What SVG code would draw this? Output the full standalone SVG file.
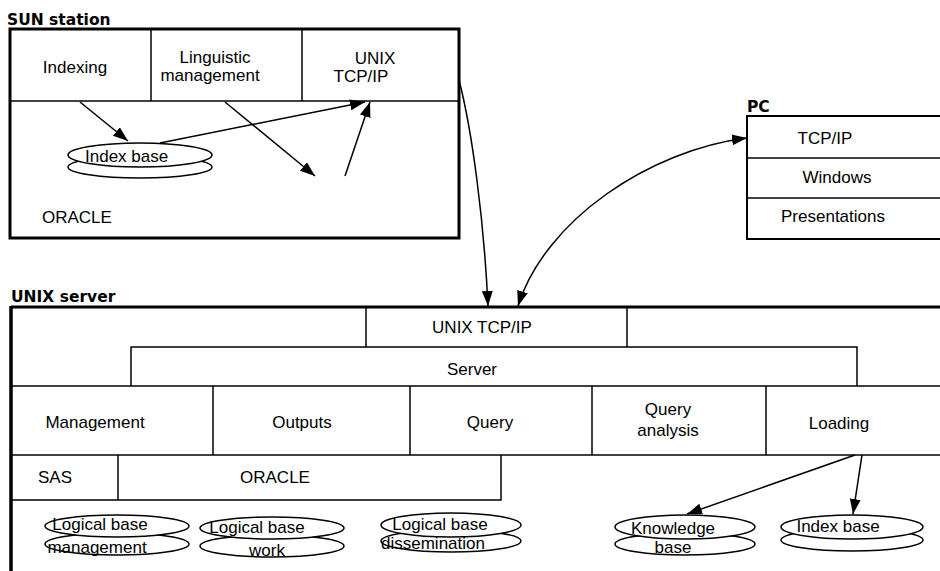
<svg xmlns="http://www.w3.org/2000/svg" width="940" height="571" viewBox="0 0 940 571">
<defs>
<style>
text{font-family:"Liberation Sans",Arial,sans-serif;font-size:17px;fill:#000}
.t{font-family:"DejaVu Sans","Liberation Sans",sans-serif;font-weight:bold;font-size:15.5px}
.m{text-anchor:middle}
.box{fill:#fff;stroke:#000;stroke-width:3}
.ln{fill:none;stroke:#000;stroke-width:1.5}
.db{fill:#fff;stroke:#000;stroke-width:1.5}
.c{fill:none;stroke:#000;stroke-width:1.5}
</style>
<marker id="ah" markerUnits="userSpaceOnUse" markerWidth="16" markerHeight="12" refX="15" refY="5.5" orient="auto-start-reverse">
<path d="M0,0 L15,5.5 L0,11 z" fill="#000"/>
</marker>
</defs>
<rect width="940" height="571" fill="#fff"/>

<g id="sun-station">
<text class="t" x="7" y="25">SUN station</text>
<rect class="box" x="10" y="29" width="449" height="209"/>
<line class="ln" x1="10" y1="101" x2="459" y2="101"/>
<line class="ln" x1="151" y1="29" x2="151" y2="101"/>
<line class="ln" x1="302" y1="29" x2="302" y2="101"/>
<text class="m" x="75" y="73">Indexing</text>
<text class="m" x="215" y="63">Linguistic</text>
<text class="m" x="210" y="81">management</text>
<text class="m" x="375" y="64">UNIX</text>
<text class="m" x="361" y="82">TCP/IP</text>
<text x="42" y="223">ORACLE</text>
</g>

<g id="sun-index-base">
<ellipse class="db" cx="140" cy="167" rx="72" ry="11"/>
<ellipse class="db" cx="140" cy="155" rx="72" ry="12"/>
<text x="85" y="162">Index base</text>
</g>

<g id="pc">
<text class="t" x="747" y="112">PC</text>
<rect x="747" y="116" width="210" height="123" fill="#fff" stroke="#000" stroke-width="2"/>
<line class="ln" x1="747" y1="158" x2="940" y2="158"/>
<line class="ln" x1="747" y1="198" x2="940" y2="198"/>
<text class="m" x="825" y="144">TCP/IP</text>
<text class="m" x="837" y="183">Windows</text>
<text class="m" x="833" y="222">Presentations</text>
</g>

<g id="unix-server">
<text class="t" x="11" y="302">UNIX server</text>
<line x1="11" y1="307" x2="940" y2="307" stroke="#000" stroke-width="3"/>
<line x1="11" y1="306" x2="11" y2="571" stroke="#000" stroke-width="3.5"/>
</g>

<g id="unix-tcpip">
<line class="ln" x1="366" y1="307" x2="366" y2="347"/>
<line class="ln" x1="627" y1="307" x2="627" y2="347"/>
<text class="m" x="482" y="333">UNIX TCP/IP</text>
</g>

<g id="server">
<polyline class="ln" points="131,386 131,347 857,347 857,386"/>
<text class="m" x="472" y="375">Server</text>
</g>

<g id="server-modules">
<line class="ln" x1="11" y1="386" x2="940" y2="386"/>
<line class="ln" x1="11" y1="455" x2="940" y2="455"/>
<line class="ln" x1="213" y1="386" x2="213" y2="455"/>
<line class="ln" x1="410" y1="386" x2="410" y2="455"/>
<line class="ln" x1="592" y1="386" x2="592" y2="455"/>
<line class="ln" x1="766" y1="386" x2="766" y2="455"/>
<text class="m" x="95" y="428">Management</text>
<text class="m" x="302" y="428">Outputs</text>
<text class="m" x="490" y="428">Query</text>
<text class="m" x="668" y="415">Query</text>
<text class="m" x="668" y="436">analysis</text>
<text class="m" x="839" y="429">Loading</text>
</g>

<g id="sas-oracle">
<polyline class="ln" points="11,500 501,500 501,455"/>
<line class="ln" x1="118" y1="455" x2="118" y2="500"/>
<text class="m" x="55" y="483">SAS</text>
<text class="m" x="275" y="483">ORACLE</text>
</g>

<g id="logical-base-management">
<ellipse class="db" cx="117" cy="544" rx="72" ry="11"/>
<ellipse class="db" cx="117" cy="526" rx="72" ry="11"/>
<text class="m" x="100" y="530">Logical base</text>
<text class="m" x="97" y="553">management</text>
</g>

<g id="logical-base-work">
<ellipse class="db" cx="272" cy="546" rx="72" ry="11"/>
<ellipse class="db" cx="272" cy="528" rx="72" ry="11"/>
<text class="m" x="257" y="533">Logical base</text>
<text class="m" x="267" y="556">work</text>
</g>

<g id="logical-base-dissemination">
<ellipse class="db" cx="451" cy="541" rx="70" ry="11"/>
<ellipse class="db" cx="451" cy="525" rx="70" ry="12"/>
<text class="m" x="440" y="530">Logical base</text>
<text class="m" x="433" y="549">dissemination</text>
</g>

<g id="knowledge-base">
<ellipse class="db" cx="685" cy="544" rx="70" ry="11"/>
<ellipse class="db" cx="685" cy="527" rx="70" ry="12"/>
<text class="m" x="673" y="534">Knowledge</text>
<text class="m" x="673" y="553">base</text>
</g>

<g id="index-base">
<ellipse class="db" cx="852" cy="540" rx="71" ry="11"/>
<ellipse class="db" cx="852" cy="527" rx="71" ry="12"/>
<text class="m" x="838" y="532">Index base</text>
</g>

<g id="connectors">
<line class="c" x1="80" y1="102" x2="128" y2="141" marker-end="url(#ah)"/>
<line class="c" x1="160" y1="143" x2="365" y2="102" marker-end="url(#ah)"/>
<line class="c" x1="225" y1="102" x2="315" y2="176" marker-end="url(#ah)"/>
<line class="c" x1="345" y1="176" x2="370" y2="102" marker-end="url(#ah)"/>
<path class="c" d="M459,80 C472,130 484,220 488,306" marker-end="url(#ah)"/>
<path class="c" d="M747,138 C650,150 545,220 518,306" marker-start="url(#ah)" marker-end="url(#ah)"/>
<line class="c" x1="855" y1="455" x2="687" y2="514" marker-end="url(#ah)"/>
<line class="c" x1="862" y1="455" x2="853" y2="514" marker-end="url(#ah)"/>
</g>
</svg>
